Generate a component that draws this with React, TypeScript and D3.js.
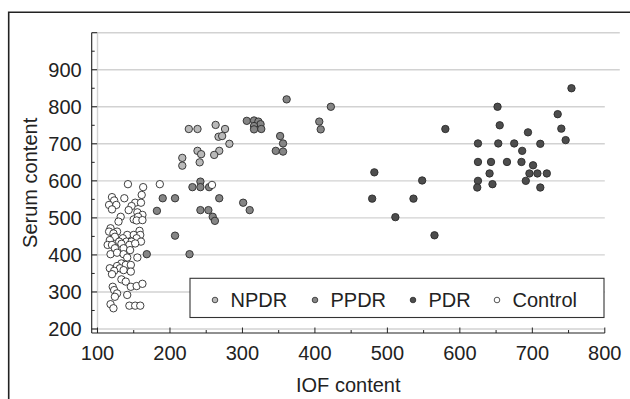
import React from "react";
import * as d3 from "d3";

// [IOF content, Serum content]
const npdr: [number, number][] = [
  [226, 740], [238, 740], [263, 751], [276, 740], [267, 719], [272, 721], [282, 700],
  [238, 681], [243, 672], [241, 650], [268, 681], [261, 670], [217, 662], [217, 641],
];

const ppdr: [number, number][] = [
  [361, 820], [306, 762], [316, 763], [322, 760], [325, 753], [316, 748], [316, 739],
  [326, 740], [352, 721], [356, 701], [346, 681], [356, 679], [422, 800], [406, 760],
  [408, 739],
  [242, 598], [231, 583], [242, 583], [254, 583], [190, 553], [207, 553], [268, 553],
  [182, 519], [242, 521], [253, 521], [259, 503], [262, 492], [301, 541], [310, 521],
  [207, 452], [168, 402], [227, 402],
];

const pdr: [number, number][] = [
  [580, 740], [482, 623], [479, 552], [548, 601], [536, 552], [511, 502], [565, 453],
  [754, 850], [652, 800], [735, 780], [655, 750], [740, 741], [694, 731], [746, 710],
  [625, 701], [653, 701], [675, 701], [711, 700], [686, 681], [625, 651], [643, 651],
  [665, 651], [685, 651], [701, 642], [641, 620], [696, 620], [707, 620], [720, 620],
  [625, 600], [645, 591], [691, 600], [624, 582], [711, 582],
];

const control: [number, number][] = [
  [142, 591], [163, 583], [186, 591], [258, 589], [161, 562], [120, 556], [137, 553],
  [123, 547], [152, 541], [160, 541], [116, 535], [126, 535], [147, 532], [120, 523],
  [143, 521], [155, 515], [132, 503], [162, 508], [150, 496], [156, 503], [129, 490],
  [154, 493], [162, 494], [118, 472], [158, 465], [116, 463], [127, 463], [122, 458],
  [141, 454], [150, 454], [159, 454], [124, 449], [135, 445], [154, 445], [117, 440],
  [130, 436], [140, 436], [147, 436], [160, 436], [114, 427], [120, 427], [133, 430],
  [144, 427], [152, 431], [124, 418], [136, 418], [145, 413], [118, 402], [127, 406],
  [136, 402], [141, 393], [155, 393], [133, 377], [139, 373], [146, 373], [127, 370],
  [117, 364], [131, 364], [123, 357], [136, 359], [146, 355], [120, 348], [133, 334],
  [139, 328], [146, 314], [154, 316], [162, 322], [121, 314], [123, 305], [127, 296],
  [141, 292], [124, 287], [118, 267], [122, 256], [144, 263], [152, 263], [159, 263],
];

const seriesNames = ["NPDR", "PPDR", "PDR", "Control"];
const seriesFills = ["#b9b9b9", "#858585", "#4d4d4d", "#ffffff"];
const seriesData = [npdr, ppdr, pdr, control];

const xTicks = [100, 200, 300, 400, 500, 600, 700, 800];
const xMinorTicks = [150, 250, 350, 450, 550, 650, 750];
const yTicks = [200, 300, 400, 500, 600, 700, 800, 900];
const yMinorTicks = [250, 350, 450, 550, 650, 750, 850, 950];
const yGrid = [200, 300, 400, 500, 600, 700, 800, 900, 1000];

const FONT = "'Liberation Sans', Arial, Helvetica, sans-serif";

export default function App() {
  const x = d3.scaleLinear().domain([92, 800]).range([91.7, 604.8]);
  const y = d3.scaleLinear().domain([189.2, 1000]).range([333, 32.7]);
  const [x0, x1] = x.range();
  const [yb, yt] = y.range();
  const legendX = [215, 315, 413, 497];

  return (
    <svg
      width={630}
      height={399}
      style={{ position: "absolute", left: 0, top: 0, background: "#fff" }}
      fontFamily={FONT}
    >
      {/* outer frame */}
      <path d="M8.7,399 L8.7,12.3 L630,12.3" fill="none" stroke="#222" strokeWidth={1.6} />

      {/* gridlines */}
      {yGrid.map((v) => (
        <line
          key={"g" + v}
          x1={x0}
          x2={v >= 900 ? x1 + 15 : x1}
          y1={y(v)}
          y2={y(v)}
          stroke="#d2d2d2"
          strokeWidth={1.4}
        />
      ))}
      <line x1={x(100)} x2={x(100)} y1={yt} y2={yb} stroke="#d2d2d2" strokeWidth={1.4} />

      {/* points */}
      {seriesData.map((data, si) =>
        data.map((d, i) => (
          <circle
            key={si + "-" + i}
            cx={x(d[0])}
            cy={y(d[1])}
            r={3.7}
            fill={seriesFills[si]}
            stroke="#2a2a2a"
            strokeWidth={0.9}
          />
        ))
      )}

      {/* axes */}
      <line x1={x0} x2={x0} y1={yt} y2={yb} stroke="#222" strokeWidth={1.1} />
      <line x1={x0} x2={x1} y1={yb} y2={yb} stroke="#222" strokeWidth={1.1} />
      {[...yTicks, 1000].map((v) => (
        <line key={"yt" + v} x1={x0} x2={x0 + 5.5} y1={y(v)} y2={y(v)} stroke="#222" strokeWidth={1} />
      ))}
      {yMinorTicks.map((v) => (
        <line key={"ym" + v} x1={x0} x2={x0 + 3} y1={y(v)} y2={y(v)} stroke="#222" strokeWidth={1} />
      ))}
      {xTicks.map((v) => (
        <line key={"xt" + v} x1={x(v)} x2={x(v)} y1={yb} y2={yb - 5.5} stroke="#222" strokeWidth={1} />
      ))}
      {xMinorTicks.map((v) => (
        <line key={"xm" + v} x1={x(v)} x2={x(v)} y1={yb} y2={yb - 3} stroke="#222" strokeWidth={1} />
      ))}

      {/* tick labels */}
      {yTicks.map((v) => (
        <text key={"yl" + v} x={x0 - 10} y={y(v)} dy="0.36em" textAnchor="end" fontSize={20} fill="#222">
          {v}
        </text>
      ))}
      {xTicks.map((v) => (
        <text key={"xl" + v} x={x(v)} y={360} textAnchor="middle" fontSize={20} fill="#222">
          {v}
        </text>
      ))}

      {/* axis titles */}
      <text x={(x0 + x1) / 2} y={392} textAnchor="middle" fontSize={20} fill="#222">
        IOF content
      </text>
      <text
        transform={`translate(37,${(yt + yb) / 2}) rotate(-90)`}
        textAnchor="middle"
        fontSize={20}
        fill="#222"
      >
        Serum content
      </text>

      {/* legend */}
      <rect x={190} y={278.3} width={414} height={39.2} fill="#fff" stroke="#333" strokeWidth={1.1} />
      {seriesNames.map((name, i) => (
        <g key={"lg" + name}>
          <circle cx={legendX[i]} cy={300} r={2.8} fill={seriesFills[i]} stroke="#2a2a2a" strokeWidth={0.8} />
          <text x={legendX[i] + 15.5} y={300} dy="0.36em" fontSize={20} fill="#222">
            {name}
          </text>
        </g>
      ))}
    </svg>
  );
}
